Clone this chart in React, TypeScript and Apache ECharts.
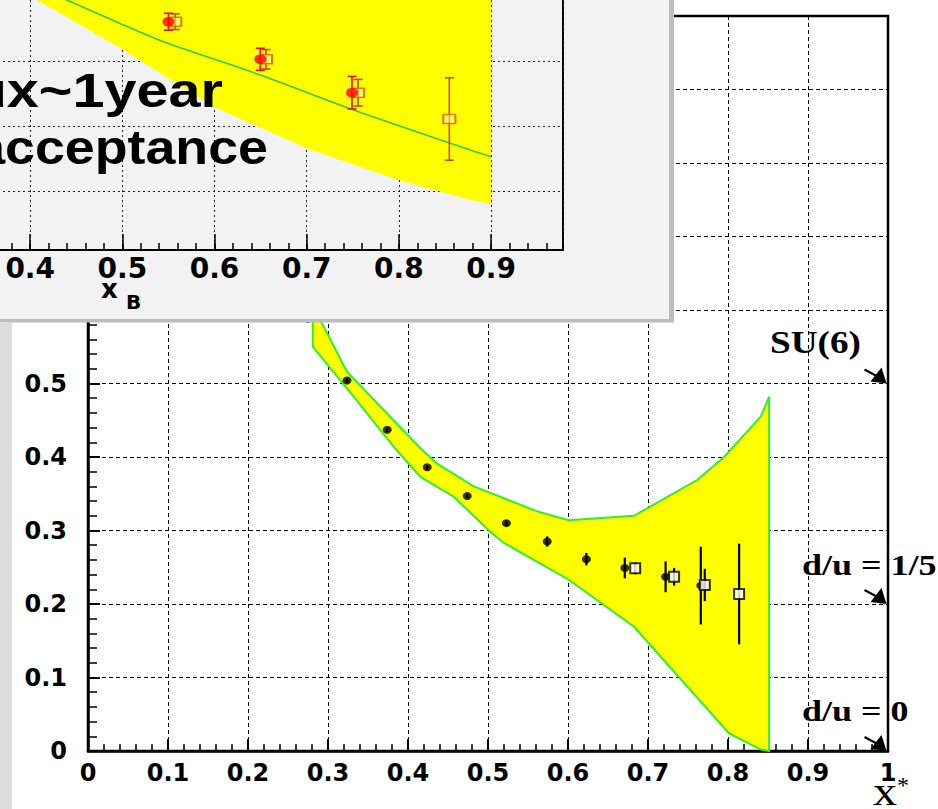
import React, { useEffect, useRef } from 'react';
import * as echarts from 'echarts';

// ---------- main panel (x*, d/u) ----------
const bandUpper: [number, number][] = [
  [0.281, 0.606], [0.3237, 0.516], [0.3696, 0.464], [0.4155, 0.412], [0.4364, 0.391],
  [0.4822, 0.36], [0.5616, 0.326], [0.601, 0.314], [0.6825, 0.32], [0.7618, 0.369],
  [0.7951, 0.4], [0.841, 0.455], [0.8514, 0.482],
];
const bandLower: [number, number][] = [
  [0.281, 0.55], [0.332, 0.482], [0.382, 0.414], [0.4155, 0.373], [0.4572, 0.346],
  [0.503, 0.298], [0.52, 0.283], [0.601, 0.233], [0.6825, 0.169], [0.8014, 0.024],
  [0.841, 0.002], [0.8514, 0],
];
const dotX = [0.275, 0.3237, 0.374, 0.424, 0.474, 0.523, 0.574, 0.623, 0.671, 0.722, 0.766];
const dotY = [0.588, 0.504, 0.437, 0.386, 0.347, 0.31, 0.285, 0.261, 0.249, 0.237, 0.225];
const dotErr = [0.003, 0.003, 0.003, 0.003, 0.003, 0.004, 0.007, 0.0085, 0.014, 0.021, 0.053];
const sqX = [0.684, 0.7326, 0.771, 0.8139];
const sqY = [0.2486, 0.2371, 0.2259, 0.2136];
const sqErr = [0.008, 0.012, 0.022, 0.0685];
const arrowTargets = [0.5, 0.2, 0];
const annotationTexts = ['SU(6)', 'd/u = 1/5', 'd/u = 0'];

// ---------- inset panel (x_B) ----------
const insetBandLower: [number, number][] = [
  [0.33, 0.86], [0.4073, 0.7946], [0.5013, 0.7177], [0.5989, 0.6305], [0.6995, 0.5665],
  [0.7997, 0.5177], [0.8775, 0.4869], [0.9, 0.4808],
];
const insetBandTop = 0.9;
const insetCurve: [number, number][] = [
  [0.4, 0.819], [0.4398, 0.7946], [0.5, 0.757], [0.5447, 0.7305], [0.6496, 0.6792],
  [0.7509, 0.6254], [0.8775, 0.5638], [0.9, 0.5535],
];
const insetDotX = [0.55, 0.6496, 0.7491];
const insetDotY = [0.7612, 0.7034, 0.652];
const insetDotErr = [0.013, 0.017, 0.025];
const insetSqX = [0.5574, 0.6558, 0.7557, 0.8547];
const insetSqY = [0.7612, 0.7034, 0.652, 0.6115];
const insetSqErr = [0.012, 0.015, 0.0205, 0.0634];
const insetTexts = ['ux~1year', 'acceptance'];

const SANS_B = '"DejaVu Sans", sans-serif';

export default function App() {
  const ref = useRef<HTMLDivElement>(null);
  useEffect(() => {
    const chart = echarts.init(ref.current!, undefined, { renderer: 'svg' });

    const fmtMain = (v: number) => (v === 0 ? '0' : Math.abs(v - 1) < 1e-9 ? '1' : v.toFixed(1));

    const errMain = [
      ...dotX.map((x, i) => [x, dotY[i], dotErr[i], 0]),
      ...sqX.map((x, i) => [x, sqY[i], sqErr[i], 1]),
    ];
    const errInset = [
      ...insetSqX.map((x, i) => [x, insetSqY[i], insetSqErr[i], 1]),
      ...insetDotX.map((x, i) => [x, insetDotY[i], insetDotErr[i], 0]),
    ];

    const option: any = {
      animation: false,
      backgroundColor: '#ffffff',
      grid: [
        { left: 88, top: 16, right: 50, bottom: 58, show: true, borderColor: '#000', borderWidth: 2.5, backgroundColor: 'transparent', containLabel: false, outerBoundsMode: 'none' },
        { left: -62, top: -75, right: 375, bottom: 559, show: true, borderColor: '#000', borderWidth: 2, backgroundColor: 'transparent', z: 12, containLabel: false, outerBoundsMode: 'none' },
      ],
      xAxis: [
        {
          gridIndex: 0, type: 'value', min: 0, max: 1, interval: 0.1,
          axisLine: { lineStyle: { color: '#000', width: 2.5 } },
          axisTick: { inside: true, length: 12, lineStyle: { color: '#000', width: 2 } },
          minorTick: { show: true, splitNumber: 5, length: 7, lineStyle: { color: '#000', width: 1.5 } },
          axisLabel: { fontFamily: SANS_B, fontWeight: 'bold', fontSize: 24, color: '#000', margin: 10, formatter: fmtMain },
          splitLine: { show: true, lineStyle: { color: '#000', width: 1, type: [4, 3] } },
        },
        {
          gridIndex: 1, type: 'value', min: 0.3, max: 0.978, interval: 0.1, z: 12,
          axisLine: { lineStyle: { color: '#000', width: 2 } },
          axisTick: { inside: true, length: 16, lineStyle: { color: '#000', width: 1.5 } },
          axisLabel: { fontFamily: SANS_B, fontWeight: 'bold', fontSize: 28, color: '#000', margin: 4, showMaxLabel: false, formatter: (v: number) => v.toFixed(1) },
          splitLine: { show: true, lineStyle: { color: '#222', width: 1, type: [2, 3] } },
        },
        {
          gridIndex: 1, type: 'value', min: 0.3, max: 0.978, interval: 0.02, z: 12, position: 'bottom',
          axisLine: { show: false },
          axisTick: { inside: true, length: 7, lineStyle: { color: '#000', width: 1.5 } },
          axisLabel: { show: false },
          splitLine: { show: false },
        },
      ],
      yAxis: [
        {
          gridIndex: 0, type: 'value', min: 0, max: 1, interval: 0.1,
          axisLine: { lineStyle: { color: '#000', width: 2.5 } },
          axisTick: { inside: true, length: 12, lineStyle: { color: '#000', width: 2 } },
          minorTick: { show: true, splitNumber: 5, length: 9, lineStyle: { color: '#000', width: 1.5 } },
          axisLabel: { fontFamily: SANS_B, fontWeight: 'bold', fontSize: 24, color: '#000', margin: 21, formatter: fmtMain },
          splitLine: { show: true, lineStyle: { color: '#000', width: 1, type: [4, 3] } },
        },
        {
          gridIndex: 1, type: 'value', min: 0.41, max: 0.91, z: 12,
          axisLine: { show: false }, axisTick: { show: false }, axisLabel: { show: false },
          splitLine: { show: true, lineStyle: { color: '#222', width: 1, type: [2, 3] } },
        },
      ],
      series: [
        {
          type: 'custom', xAxisIndex: 0, yAxisIndex: 0, z: 2,
          data: [[0.5, 0.5]],
          renderItem: (_p: any, api: any) => {
            const pts = [...bandUpper, ...bandLower.slice().reverse()].map((p) => api.coord(p));
            return { type: 'polygon', shape: { points: pts }, style: { fill: '#ffff00', stroke: '#2cf02c', lineWidth: 2 } };
          },
        },
        {
          type: 'custom', xAxisIndex: 0, yAxisIndex: 0, z: 3,
          data: errMain,
          encode: { x: 0, y: 1 },
          renderItem: (_p: any, api: any) => {
            const x = api.value(0), y = api.value(1), e = api.value(2);
            const lo = api.coord([x, y - e]);
            const hi = api.coord([x, y + e]);
            return { type: 'line', shape: { x1: lo[0], y1: lo[1], x2: hi[0], y2: hi[1] }, style: { stroke: '#000', lineWidth: 2.2 } };
          },
        },
        {
          type: 'scatter', xAxisIndex: 0, yAxisIndex: 0, z: 4,
          symbol: 'circle', symbolSize: [9, 8],
          itemStyle: { color: '#000' },
          data: dotX.map((x, i) => [x, dotY[i]]),
        },
        {
          type: 'scatter', xAxisIndex: 0, yAxisIndex: 0, z: 5,
          symbol: 'rect', symbolSize: 10,
          itemStyle: { color: '#ffffff', borderColor: '#000', borderWidth: 2 },
          data: sqX.map((x, i) => [x, sqY[i]]),
        },
        {
          // arrows pointing at the right axis
          type: 'custom', xAxisIndex: 0, yAxisIndex: 0, z: 6, clip: false,
          data: arrowTargets.map((t) => [1, t]),
          encode: { x: 0, y: 1 },
          renderItem: (_p: any, api: any) => {
            const p = api.coord([api.value(0), api.value(1)]);
            const tx = p[0] - 1.5, ty = p[1];
            return {
              type: 'group',
              children: [
                { type: 'line', shape: { x1: tx - 22, y1: ty - 14, x2: tx - 9, y2: ty - 7 }, style: { stroke: '#000', lineWidth: 2 } },
                { type: 'polygon', shape: { points: [[tx, ty], [tx - 16, ty - 2], [tx - 5, ty - 16]] }, style: { fill: '#000' } },
              ],
            };
          },
        },
        {
          type: 'custom', xAxisIndex: 1, yAxisIndex: 1, z: 13,
          data: [[0.6, 0.6]],
          renderItem: (_p: any, api: any) => {
            const first = insetBandLower[0];
            const last = insetBandLower[insetBandLower.length - 1];
            const pts = [...insetBandLower, [last[0], insetBandTop], [first[0], insetBandTop]].map((p) => api.coord(p));
            return { type: 'polygon', shape: { points: pts }, style: { fill: '#ffff00' } };
          },
        },
        {
          type: 'line', xAxisIndex: 1, yAxisIndex: 1, z: 14,
          symbol: 'none', smooth: 0.3,
          lineStyle: { color: '#33cc33', width: 1.6 },
          data: insetCurve,
        },
        {
          type: 'custom', xAxisIndex: 1, yAxisIndex: 1, z: 15,
          data: errInset,
          encode: { x: 0, y: 1 },
          renderItem: (_p: any, api: any) => {
            const x = api.value(0), y = api.value(1), e = api.value(2), k = api.value(3);
            const lo = api.coord([x, y - e]);
            const hi = api.coord([x, y + e]);
            const c = k === 0 ? '#e01010' : '#c84a10';
            const st = { stroke: c, lineWidth: 1.6 };
            return {
              type: 'group',
              children: [
                { type: 'line', shape: { x1: lo[0], y1: lo[1], x2: hi[0], y2: hi[1] }, style: st },
                { type: 'line', shape: { x1: lo[0] - 4.5, y1: lo[1], x2: lo[0] + 4.5, y2: lo[1] }, style: st },
                { type: 'line', shape: { x1: hi[0] - 4.5, y1: hi[1], x2: hi[0] + 4.5, y2: hi[1] }, style: st },
              ],
            };
          },
        },
        {
          type: 'scatter', xAxisIndex: 1, yAxisIndex: 1, z: 16,
          symbol: 'rect', symbolSize: [12, 9],
          itemStyle: { color: 'rgba(255,255,200,0.6)', borderColor: '#e05a10', borderWidth: 1.8 },
          data: insetSqX.map((x, i) => [x, insetSqY[i]]),
        },
        {
          type: 'scatter', xAxisIndex: 1, yAxisIndex: 1, z: 17,
          symbol: 'circle', symbolSize: [12, 10],
          itemStyle: { color: '#ff0000' },
          data: insetDotX.map((x, i) => [x, insetDotY[i]]),
        },
      ],
      graphic: {
        elements: [
          { type: 'rect', z: 10, silent: true, shape: { x: -10, y: -10, width: 680, height: 329 }, style: { fill: '#f2f2f2' } },
          { type: 'rect', z: 10, silent: true, shape: { x: 669, y: -10, width: 5, height: 332 }, style: { fill: '#bdbdbd' } },
          { type: 'rect', z: 10, silent: true, shape: { x: -10, y: 319, width: 684, height: 3.5 }, style: { fill: '#bdbdbd' } },
          { type: 'rect', z: 10, silent: true, shape: { x: 0, y: 322.5, width: 12, height: 490 }, style: { fill: '#dcdcdc' } },
          {
            type: 'text', z: 20, x: 223, y: 90.7, scaleX: 1.2, silent: true,
            style: { text: insetTexts[0], font: 'bold 48px "Liberation Sans", Arial, sans-serif', fill: '#000', textAlign: 'right', textVerticalAlign: 'middle' },
          },
          {
            type: 'text', z: 20, x: 268, y: 148, scaleX: 1.12, silent: true,
            style: { text: insetTexts[1], font: 'bold 48px "Liberation Sans", Arial, sans-serif', fill: '#000', textAlign: 'right', textVerticalAlign: 'middle' },
          },
          {
            type: 'text', z: 20, x: 101, y: 289, silent: true,
            style: { text: 'x', font: 'bold 26px "DejaVu Sans", sans-serif', fill: '#000', textAlign: 'left', textVerticalAlign: 'middle' },
          },
          {
            type: 'text', z: 20, x: 126, y: 302, silent: true,
            style: { text: 'B', font: 'bold 20px "DejaVu Sans", sans-serif', fill: '#000', textAlign: 'left', textVerticalAlign: 'middle' },
          },
          {
            type: 'text', z: 10, x: 770, y: 342.5, scaleX: 1.2, silent: true,
            style: { text: annotationTexts[0], font: 'bold 31px "Liberation Serif", "Times New Roman", serif', fill: '#000', textAlign: 'left', textVerticalAlign: 'middle' },
          },
          {
            type: 'text', z: 10, x: 802, y: 564.8, scaleX: 1.2, silent: true,
            style: { text: annotationTexts[1], font: 'bold 30px "Liberation Serif", "Times New Roman", serif', fill: '#000', textAlign: 'left', textVerticalAlign: 'middle' },
          },
          {
            type: 'text', z: 10, x: 802, y: 711, scaleX: 1.2, silent: true,
            style: { text: annotationTexts[2], font: 'bold 30px "Liberation Serif", "Times New Roman", serif', fill: '#000', textAlign: 'left', textVerticalAlign: 'middle' },
          },
          {
            type: 'text', z: 10, x: 873, y: 792, scaleX: 1.2, silent: true,
            style: { text: 'x', font: '40px "Liberation Serif", "Times New Roman", serif', fill: '#000', textAlign: 'left', textVerticalAlign: 'middle' },
          },
          {
            type: 'text', z: 10, x: 897, y: 785, silent: true,
            style: { text: '*', font: '24px "Liberation Serif", "Times New Roman", serif', fill: '#000', textAlign: 'left', textVerticalAlign: 'middle' },
          },
        ],
      },
    };

    chart.setOption(option);
    return () => chart.dispose();
  }, []);

  return (
    <div
      ref={ref}
      style={{ position: 'fixed', left: 0, top: 0, width: 938, height: 809, background: '#ffffff' }}
    />
  );
}
